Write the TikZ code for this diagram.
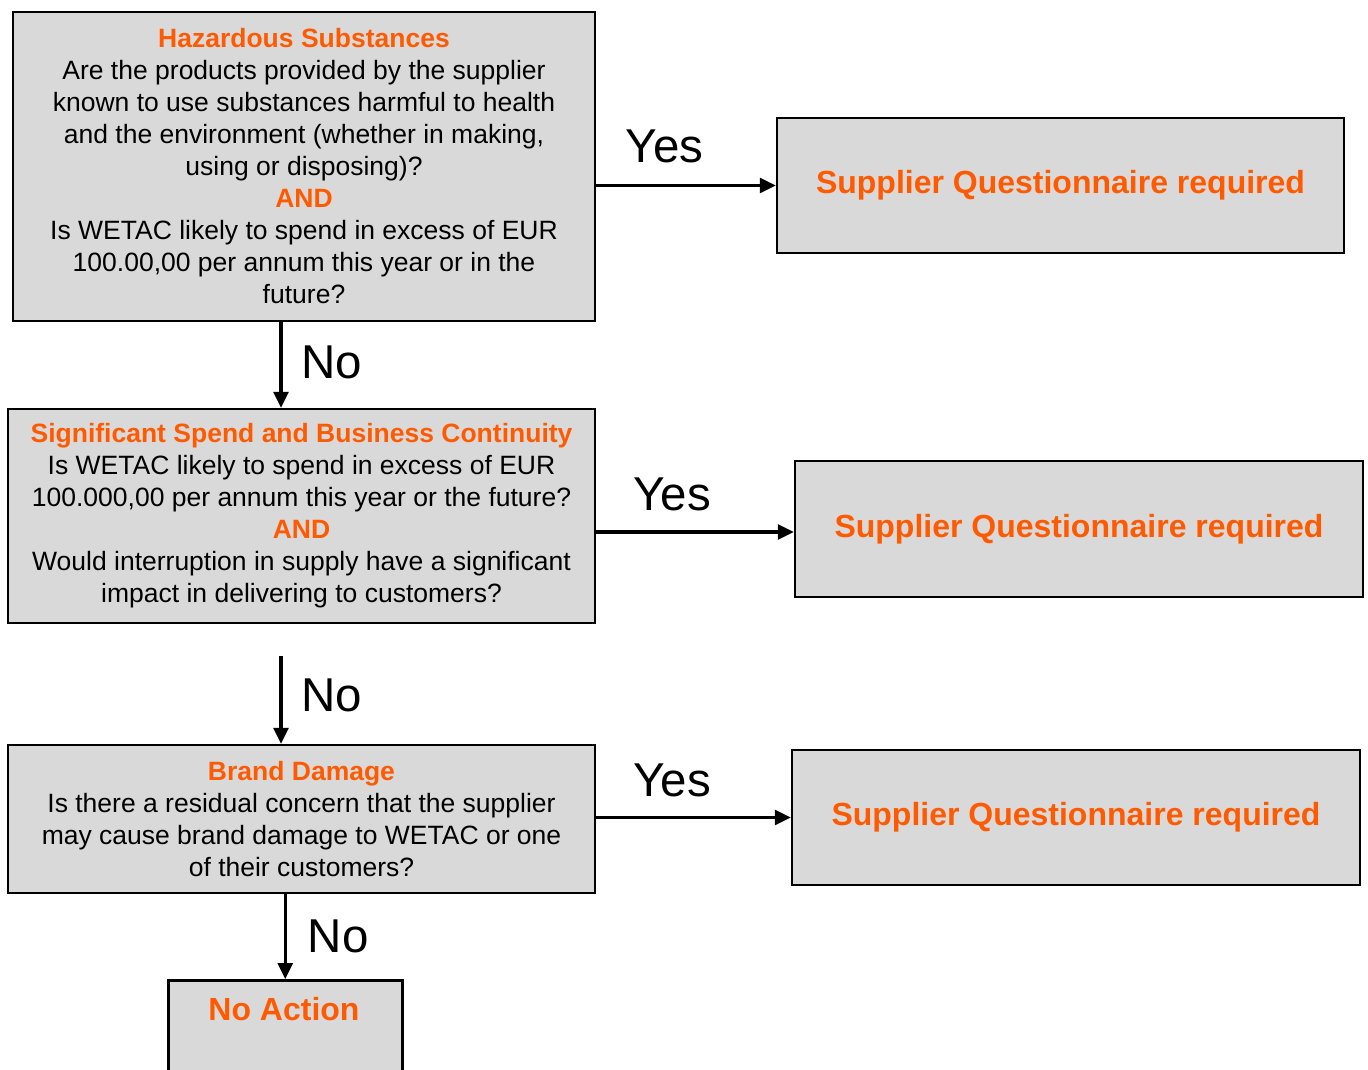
\documentclass[tikz,border=0pt]{standalone}
\usepackage{fontspec}
\setmainfont{Liberation Sans}
\usetikzlibrary{arrows.meta}
\definecolor{qorange}{RGB}{255,90,0}
\definecolor{qgray}{RGB}{217,217,217}
\newcommand{\qtitle}{\bfseries\color{qorange}}
\tikzset{
  qbox/.style={draw=black, fill=qgray, line width=2.5pt, inner sep=0pt},
  qtext/.style={align=center, inner sep=0pt, font=\fontsize{26.5}{32}\selectfont},
  qresult/.style={inner sep=0pt, font=\fontsize{32}{36}\selectfont\bfseries, text=qorange},
  qarrow/.style={line width=3.2pt, -{Triangle[length=16pt,width=15pt]}},
  qlabel/.style={inner sep=0pt, font=\fontsize{47.5}{50}\selectfont}
}
\begin{document}
\begin{tikzpicture}[x=1pt,y=-1pt]
\clip (0,0) rectangle (1368,1070);

% question boxes
\node[qbox, minimum width=582pt, minimum height=309pt] (a) at (304,166.5) {};
\node[qtext] (at) at (a.center) {{\qtitle Hazardous Substances}\\
Are the products provided by the supplier\\
known to use substances harmful to health\\
and the environment (whether in making,\\
using or disposing)?\\
{\qtitle AND}\\
Is WETAC likely to spend in excess of EUR\\
100.00,00 per annum this year or in the\\
future?};

\node[qbox, minimum width=587pt, minimum height=214pt] (b) at (301.5,516) {};
\node[qtext] (bt) at (b.center) {{\qtitle Significant Spend and Business Continuity}\\
Is WETAC likely to spend in excess of EUR\\
100.000,00 per annum this year or the future?\\
{\qtitle AND}\\
Would interruption in supply have a significant\\
impact in delivering to customers?};

\node[qbox, minimum width=587pt, minimum height=148pt] (c) at (301.5,819) {};
\node[qtext] (ct) at (c.center) {{\qtitle Brand Damage}\\
Is there a residual concern that the supplier\\
may cause brand damage to WETAC or one\\
of their customers?};

% final box, running past the lower edge
\node[qbox, anchor=north west, minimum width=234pt, minimum height=130pt] (d) at (167,979) {};
\node[qresult] (dt) at (284,1009) {No Action};

% result boxes
\node[qbox, minimum width=567pt, minimum height=135pt] (r1) at (1060.5,185.5) {};
\node[qresult] (r1t) at (r1.center) {Supplier Questionnaire required};
\node[qbox, minimum width=568pt, minimum height=136pt] (r2) at (1079,529) {};
\node[qresult] (r2t) at (r2.center) {Supplier Questionnaire required};
\node[qbox, minimum width=568pt, minimum height=135pt] (r3) at (1076,817.5) {};
\node[qresult] (r3t) at (r3.center) {Supplier Questionnaire required};

% connector anchors
\coordinate (xab) at (281,0);
\coordinate (bcstart) at (281,656);
\coordinate (yb) at (0,532);

% "No" connectors
\draw[qarrow] (a.south -| xab) -- node[qlabel, anchor=west, xshift=19pt, yshift=3pt] (n1) {No} (b.north -| xab);
\draw[qarrow] (bcstart) -- node[qlabel, anchor=west, xshift=19pt, yshift=4pt] (n2) {No} (c.north -| bcstart);
\draw[qarrow] (c.south -| d.north) -- node[qlabel, anchor=west, xshift=21pt] (n3) {No} (d.north);

% "Yes" connectors
\draw[qarrow] (a.east |- r1.west) -- node[qlabel, pos=0.38, anchor=south, yshift=21pt] (y1) {Yes} (r1.west);
\draw[qarrow] (b.east |- yb) -- node[qlabel, pos=0.385, anchor=south, yshift=19pt] (y2) {Yes} (r2.west |- yb);
\draw[qarrow] (c.east |- r3.west) -- node[qlabel, pos=0.39, anchor=south, yshift=19pt] (y3) {Yes} (r3.west);
\end{tikzpicture}
\end{document}
